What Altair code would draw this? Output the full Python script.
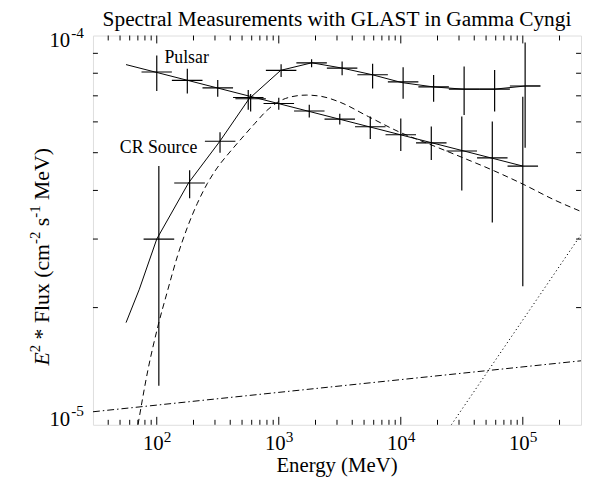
import altair as alt
import pandas as pd

# ---------------- data ----------------
# "Pulsar" series (decreasing power law)
E_A = [100, 178, 316, 562, 1000, 1778, 3162, 5623, 10000, 17783, 31623, 56234, 100000]
F_A = [8.06e-5, 7.67e-5, 7.34e-5, 6.93e-5, 6.69e-5, 6.40e-5, 6.10e-5, 5.83e-5, 5.56e-5, 5.30e-5, 5.05e-5, 4.85e-5, 4.62e-5]
FA_hi = [8.88e-5, 8.21e-5, 7.69e-5, 7.25e-5, 6.92e-5, 6.64e-5, 6.30e-5, 6.19e-5, 6.12e-5, 5.84e-5, 6.19e-5, 6.01e-5, 6.96e-5]
FA_lo = [7.20e-5, 7.10e-5, 6.96e-5, 6.45e-5, 6.45e-5, 6.16e-5, 5.91e-5, 5.42e-5, 5.05e-5, 4.79e-5, 4.00e-5, 3.31e-5, 2.27e-5]
EA_lo = [75, 133, 237, 422, 750, 1334, 2371, 4217, 7499, 13335, 23714, 42170, 74989]
EA_hi = [133, 237, 422, 750, 1334, 2371, 4217, 7499, 13335, 23714, 42170, 74989, 133352]

# "CR Source" series (rising, then flat)
E_B = [104, 186, 330, 588, 1045, 1858, 3305, 5876, 10450, 18583, 33046, 58765, 104500]
F_B = [3.00e-5, 4.18e-5, 5.35e-5, 6.88e-5, 8.14e-5, 8.51e-5, 8.25e-5, 7.93e-5, 7.60e-5, 7.38e-5, 7.28e-5, 7.28e-5, 7.42e-5]
FB_hi = [4.62e-5, 4.51e-5, 5.64e-5, 7.08e-5, 8.44e-5, 8.69e-5, 8.58e-5, 8.46e-5, 8.29e-5, 7.92e-5, 8.33e-5, 8.15e-5, 9.60e-5]
FB_lo = [1.26e-5, 3.82e-5, 5.00e-5, 6.38e-5, 7.82e-5, 8.29e-5, 7.90e-5, 7.31e-5, 6.88e-5, 6.76e-5, 6.25e-5, 6.38e-5, 5.15e-5]
EB_lo = [78, 139, 248, 441, 784, 1394, 2478, 4407, 7836, 13935, 24781, 44068, 78364]
EB_hi = [139, 248, 441, 784, 1394, 2478, 4407, 7836, 13935, 24781, 44068, 78364, 139353]

# model curves
LA_E = [56, 100000]
LA_F = [8.42e-5, 4.62e-5]

LB_E = [56, 72, 100, 182, 329, 571, 1038, 1866, 3286, 5831, 10200, 18420, 32860, 58300, 105400, 139400]
LB_F = [1.83e-5, 2.23e-5, 3.00e-5, 4.18e-5, 5.35e-5, 6.88e-5, 8.14e-5, 8.51e-5, 8.25e-5, 7.93e-5, 7.57e-5, 7.38e-5, 7.28e-5, 7.28e-5, 7.42e-5, 7.42e-5]

DASH_E = [70.2, 84.5, 101.9, 122.8, 148, 178.4, 214.9, 259.2, 312.4, 390.9, 498, 635, 795, 994, 1267, 1678,
          2219, 3105, 5430, 9510, 17950, 31440, 58310, 102100, 178700, 301000]
DASH_F = [1.00e-5, 1.379e-5, 1.784e-5, 2.214e-5, 2.716e-5, 3.218e-5, 3.703e-5, 4.163e-5, 4.569e-5, 4.99e-5,
          5.45e-5, 5.94e-5, 6.41e-5, 6.76e-5, 6.96e-5, 7.03e-5, 6.98e-5, 6.76e-5, 6.19e-5, 5.67e-5, 5.23e-5,
          4.87e-5, 4.49e-5, 4.14e-5, 3.79e-5, 3.53e-5]

DASHDOT_E = [30, 300000]
DASHDOT_F = [1.08e-5, 1.46e-5]

DOT_E = [25970, 300000]
DOT_F = [1.00e-5, 3.08e-5]

# axis ticks / labels
X_MAJOR = [100, 1000, 10000, 100000]
X_EXP = ["2", "3", "4", "5"]
X_MINOR = [40, 50, 60, 70, 80, 90,
           200, 300, 400, 500, 600, 700, 800, 900,
           2000, 3000, 4000, 5000, 6000, 7000, 8000, 9000,
           20000, 30000, 40000, 50000, 60000, 70000, 80000, 90000,
           200000]
Y_MINOR = [2e-5, 3e-5, 4e-5, 5e-5, 6e-5, 7e-5, 8e-5, 9e-5]

TITLE = "Spectral Measurements with GLAST in Gamma Cyngi"
XTITLE = "Energy (MeV)"
NB = "\u00a0"
# y title pieces: (text, superscript?, italic?, leading space in em, advance width in em)
YTITLE_PIECES = [("E", False, True, 0.0, 0.611),
                 ("2", True, False, 0.0, 0.5),
                 ("*" + NB + "Flux" + NB + "(cm", False, False, 0.25, 4.389),
                 ("-2", True, False, 0.0, 0.833),
                 ("s", False, False, 0.25, 0.389),
                 ("-1", True, False, 0.0, 0.833),
                 ("MeV)", False, False, 0.25, 2.388)]

# ---------------- chart ----------------
W, H = 494, 394
FONT = "Liberation Serif"
xs = alt.Scale(type="log", domain=[30, 300000], nice=False)
ys = alt.Scale(type="log", domain=[1e-5, 1e-4], nice=False)

ptsA = pd.DataFrame({"E": E_A, "F": F_A, "lo": FA_lo, "hi": FA_hi, "elo": EA_lo, "ehi": EA_hi})
ptsB = pd.DataFrame({"E": E_B, "F": F_B, "lo": FB_lo, "hi": FB_hi, "elo": EB_lo, "ehi": EB_hi})

X = lambda f="E": alt.X(f"{f}:Q", scale=xs, axis=None)
Y = lambda f="F": alt.Y(f"{f}:Q", scale=ys, axis=None)


def line(E, F, dash=None, interp="linear"):
    kw = dict(color="black", strokeWidth=1, clip=True, interpolate=interp)
    if dash:
        kw["strokeDash"] = dash
    return alt.Chart(pd.DataFrame({"E": E, "F": F})).mark_line(**kw).encode(x=X(), y=Y())


layers = []
for df in (ptsA, ptsB):
    layers.append(alt.Chart(df).mark_rule(color="black", strokeWidth=1.2, clip=True).encode(
        x=X(), y=Y("lo"), y2="hi:Q"))
    layers.append(alt.Chart(df).mark_rule(color="black", strokeWidth=1.2, clip=True).encode(
        x=X("elo"), x2="ehi:Q", y=Y()))

layers.append(line(LA_E, LA_F))
layers.append(line(LB_E, LB_F))
layers.append(line(DASH_E, DASH_F, dash=[6, 4], interp="monotone"))
layers.append(line(DASHDOT_E, DASHDOT_F, dash=[7, 3, 1.5, 3]))
layers.append(line(DOT_E, DOT_F, dash=[1.2, 2.8]))

# series labels
lab = pd.DataFrame({"E": [115.5, 49.8], "F": [8.51e-5, 5.0e-5], "t": ["Pulsar", "CR Source"]})
layers.append(alt.Chart(lab).mark_text(font=FONT, fontSize=18, align="left", baseline="alphabetic",
                                       color="black").encode(x=X(), y=Y(), text="t:N"))

# ticks (inside the frame, on all four sides)
xmaj = pd.DataFrame({"v": X_MAJOR, "e": X_EXP})
xmin = pd.DataFrame({"v": X_MINOR})
ymin = pd.DataFrame({"v": Y_MINOR})
tk = dict(color="black", strokeWidth=1)
layers += [
    alt.Chart(xmaj).mark_rule(**tk).encode(x=X("v"), y=alt.value(H), y2=alt.value(H - 8)),
    alt.Chart(xmaj).mark_rule(**tk).encode(x=X("v"), y=alt.value(0), y2=alt.value(8)),
    alt.Chart(xmin).mark_rule(**tk).encode(x=X("v"), y=alt.value(H), y2=alt.value(H - 5)),
    alt.Chart(xmin).mark_rule(**tk).encode(x=X("v"), y=alt.value(0), y2=alt.value(5)),
    alt.Chart(ymin).mark_rule(**tk).encode(y=Y("v"), x=alt.value(0), x2=alt.value(5)),
    alt.Chart(ymin).mark_rule(**tk).encode(y=Y("v"), x=alt.value(W), x2=alt.value(W - 5)),
]

# x tick labels: 10 with superscript exponent
layers += [
    alt.Chart(xmaj).mark_text(font=FONT, fontSize=21, align="right", baseline="alphabetic", dx=7,
                              color="black").encode(x=X("v"), y=alt.value(H + 26), text=alt.value("10")),
    alt.Chart(xmaj).mark_text(font=FONT, fontSize=15.5, align="left", baseline="alphabetic", dx=7,
                              color="black").encode(x=X("v"), y=alt.value(H + 17), text="e:N"),
]
# y tick labels
ytop = pd.DataFrame({"v": [1e-4], "e": ["-4"]})
ybot = pd.DataFrame({"v": [1e-5], "e": ["-5"]})
for df, d10, dex in ((ytop, 12, 2), (ybot, 1, -9)):
    layers += [
        alt.Chart(df).mark_text(font=FONT, fontSize=21, align="right", baseline="alphabetic", dy=d10,
                                color="black").encode(y=Y("v"), x=alt.value(-23), text=alt.value("10")),
        alt.Chart(df).mark_text(font=FONT, fontSize=15.5, align="left", baseline="alphabetic", dy=dex,
                                color="black").encode(y=Y("v"), x=alt.value(-22), text="e:N"),
    ]

# titles
one = pd.DataFrame({"a": [0]})
layers += [
    alt.Chart(one).mark_text(font=FONT, fontSize=21.6, align="center", baseline="alphabetic",
                             color="black").encode(x=alt.value(W / 2), y=alt.value(-10), text=alt.value(TITLE)),
    alt.Chart(one).mark_text(font=FONT, fontSize=21, align="center", baseline="alphabetic",
                             color="black").encode(x=alt.value(W / 2), y=alt.value(H + 48), text=alt.value(XTITLE)),
]

# rotated y title built from pieces (superscripts raised, E italic)
BASE, SUP = 22, 15
ypos = 334.0
for txt, sup, ital, lead, em in YTITLE_PIECES:
    size = SUP if sup else BASE
    ypos -= lead * BASE
    kw = dict(font=FONT, fontSize=size, align="left", baseline="alphabetic", angle=270, color="black")
    if ital:
        kw["fontStyle"] = "italic"
    layers.append(alt.Chart(one).mark_text(**kw).encode(
        x=alt.value(-54 if sup else -45), y=alt.value(ypos), text=alt.value(txt)))
    ypos -= em * size

chart = alt.layer(*layers).properties(
    width=W, height=H,
    padding={"left": 86, "top": 25, "right": 1, "bottom": 50},
    autosize=alt.AutoSizeParams(type="none"),
).configure_view(stroke="black", strokeWidth=1.2).configure(background="white")

chart.save("out.html", embed_options={"renderer": "svg", "actions": False})
